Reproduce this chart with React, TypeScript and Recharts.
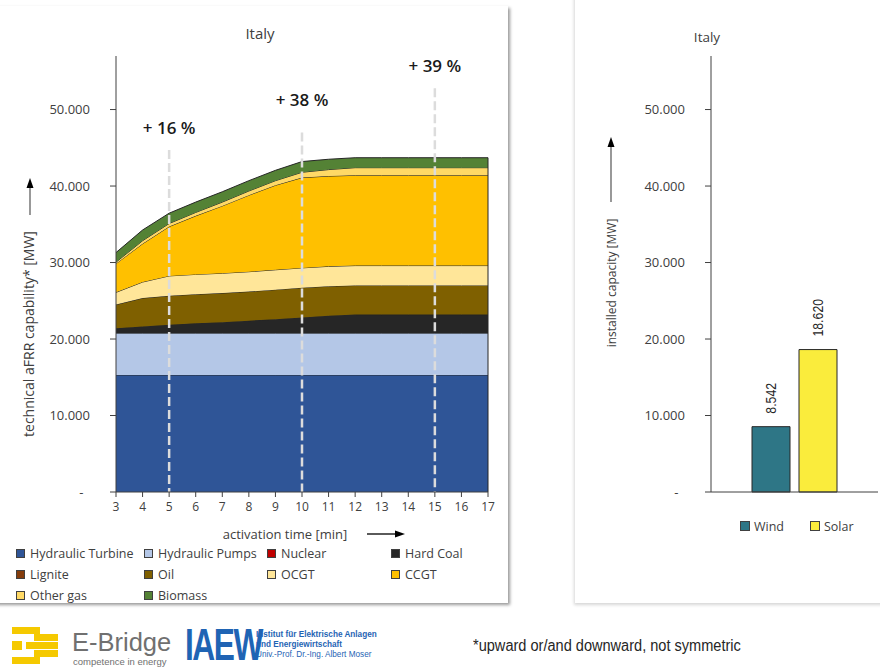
import React from 'react';
import { AreaChart, Area, XAxis, YAxis, ReferenceLine, BarChart, Bar, LabelList, Legend } from 'recharts';

const FONT = '"Open Sans", "Noto Sans", sans-serif';
const ARIAL = '"Liberation Sans", Arial, sans-serif';
const TEXT = '#404040';

// ---- left chart data: technical aFRR capability [MW] per activation time ----
const minutes = [3, 4, 5, 6, 7, 8, 9, 10, 11, 12, 13, 14, 15, 16, 17];
const hydraulicTurbine = [15300, 15300, 15300, 15300, 15300, 15300, 15300, 15300, 15300, 15300, 15300, 15300, 15300, 15300, 15300];
const hydraulicPumps = [5500, 5500, 5500, 5500, 5500, 5500, 5500, 5500, 5500, 5500, 5500, 5500, 5500, 5500, 5500];
const nuclear = [0, 0, 0, 0, 0, 0, 0, 0, 0, 0, 0, 0, 0, 0, 0];
const hardCoal = [600, 850, 1050, 1250, 1400, 1600, 1800, 2000, 2250, 2400, 2400, 2400, 2400, 2400, 2400];
const lignite = [0, 0, 0, 0, 0, 0, 0, 0, 0, 0, 0, 0, 0, 0, 0];
const oil = [3100, 3700, 3800, 3800, 3800, 3800, 3850, 3900, 3850, 3800, 3800, 3800, 3800, 3800, 3800];
const ocgt = [1600, 2100, 2600, 2600, 2600, 2600, 2600, 2600, 2600, 2600, 2600, 2600, 2600, 2600, 2600];
const ccgt = [3750, 5000, 6450, 7650, 8800, 10000, 11050, 11800, 11800, 11800, 11800, 11800, 11800, 11800, 11800];
const otherGas = [200, 400, 400, 450, 500, 550, 600, 700, 850, 1000, 1000, 1000, 1000, 1000, 1000];
const biomass = [1250, 1400, 1350, 1350, 1350, 1350, 1350, 1400, 1350, 1300, 1300, 1300, 1300, 1300, 1300];

const yTicks = [0, 10000, 20000, 30000, 40000, 50000];

const markerMinutes = [5, 10, 15];
const markerTops = [44700, 47000, 52800];
const markerLabels = ['+ 16 %', '+ 38 %', '+ 39 %'];
const markerOffsets = [16, 26, 16];

// ---- right chart data: installed capacity [MW] ----
const capacityCountry = ['Italy'];
const windCapacity = [8542];
const solarCapacity = [18620];

const series = [
  { key: 'hydraulicTurbine', name: 'Hydraulic Turbine', color: '#2F5597', values: hydraulicTurbine },
  { key: 'hydraulicPumps', name: 'Hydraulic Pumps', color: '#B4C7E7', values: hydraulicPumps },
  { key: 'nuclear', name: 'Nuclear', color: '#C00000', values: nuclear },
  { key: 'hardCoal', name: 'Hard Coal', color: '#262626', values: hardCoal },
  { key: 'lignite', name: 'Lignite', color: '#843C0C', values: lignite },
  { key: 'oil', name: 'Oil', color: '#7F6000', values: oil },
  { key: 'ocgt', name: 'OCGT', color: '#FFE699', values: ocgt },
  { key: 'ccgt', name: 'CCGT', color: '#FFC000', values: ccgt },
  { key: 'otherGas', name: 'Other gas', color: '#FFD966', values: otherGas },
  { key: 'biomass', name: 'Biomass', color: '#548235', values: biomass },
];

const areaData = minutes.map((m, i) => {
  const row: any = { minute: m };
  series.forEach((s) => {
    row[s.key] = s.values[i];
  });
  return row;
});

const lastTotal = series.reduce((acc, s) => acc + s.values[s.values.length - 1], 0);

const barData = capacityCountry.map((c, i) => ({ country: c, wind: windCapacity[i], solar: solarCapacity[i] }));

const fmtTick = (v: number) => (v === 0 ? '-\u2002' : `${v / 1000}.000`);
const fmtNum = (v: number) => `${Math.floor(v / 1000)}.${String(v % 1000).padStart(3, '0')}`;

const UpArrow = ({ x, y1, y2 }: { x: number; y1: number; y2: number }) => (
  <g>
    <line x1={x} y1={y1} x2={x} y2={y2 + 9} stroke="#7F7F7F" strokeWidth={1.6} />
    <polygon points={`${x},${y2} ${x - 3.5},${y2 + 10} ${x + 3.5},${y2 + 10}`} fill="#000" />
  </g>
);

const LeftYLabel = () => (
  <g>
    <text
      x={28}
      y={334}
      transform="rotate(-90 28 334)"
      textAnchor="middle"
      dominantBaseline="central"
      fontFamily={FONT}
      fontSize={14}
      fill={TEXT}
    >
      technical aFRR capability* [MW]
    </text>
    <UpArrow x={30} y1={215} y2={178} />
  </g>
);

const LeftXLabel = () => (
  <g>
    <text x={285} y={534} textAnchor="middle" dominantBaseline="central" fontFamily={FONT} fontSize={13} fill={TEXT}>
      activation time [min]
    </text>
    <line x1={367} y1={534} x2={396} y2={534} stroke="#000" strokeWidth={1.3} />
    <polygon points="405,534 395,530.5 395,537.5" fill="#000" />
  </g>
);

const RightYLabel = () => (
  <g>
    <text
      x={36}
      y={283}
      transform="rotate(-90 36 283)"
      textAnchor="middle"
      dominantBaseline="central"
      fontFamily={FONT}
      fontSize={12}
      fill={TEXT}
    >
      installed capacity [MW]
    </text>
    <UpArrow x={36} y1={202} y2={137} />
  </g>
);

const LeftLegend = () => {
  const cols = [16, 144, 267, 391];
  const rows = [553, 574, 595];
  return (
    <div style={{ position: 'relative', width: 510, height: 70 }}>
      {series.map((s, i) => {
        const c = cols[i % 4];
        const r = rows[Math.floor(i / 4)] - 545;
        return (
          <div key={s.key} style={{ position: 'absolute', left: c, top: r - 9, height: 18, display: 'flex', alignItems: 'center', whiteSpace: 'nowrap' }}>
            <span style={{ display: 'inline-block', width: 7, height: 7, background: s.color, border: '1px solid #404040', marginRight: 5 }} />
            <span style={{ fontFamily: FONT, fontSize: 12.5, color: TEXT }}>{s.name}</span>
          </div>
        );
      })}
    </div>
  );
};

const RightLegend = () => {
  const items = [
    { name: 'Wind', color: '#2E7686', left: 165 },
    { name: 'Solar', color: '#FAEC3C', left: 235 },
  ];
  return (
    <div style={{ position: 'relative', width: 305, height: 20 }}>
      {items.map((it) => (
        <div key={it.name} style={{ position: 'absolute', left: it.left, top: 0, height: 18, display: 'flex', alignItems: 'center', whiteSpace: 'nowrap' }}>
          <span style={{ display: 'inline-block', width: 8, height: 8, background: it.color, border: '1px solid #404040', marginRight: 4 }} />
          <span style={{ fontFamily: FONT, fontSize: 12.5, color: TEXT }}>{it.name}</span>
        </div>
      ))}
    </div>
  );
};

const BarValueLabel = (p: any) => {
  const { x, y, width, value } = p;
  const cx = Number(x) + Number(width) / 2;
  const yy = Number(y) - 13;
  return (
    <g transform={`translate(${cx} ${yy}) rotate(-90) scale(0.85 1)`}>
      <text x={0} y={0} textAnchor="start" dominantBaseline="central" fontFamily={ARIAL} fontSize={14.5} fill="#262626">
        {fmtNum(Number(value))}
      </text>
    </g>
  );
};

const EBridgeLogo = () => (
  <div style={{ position: 'absolute', left: 10, top: 624, width: 170, height: 44 }}>
    <svg width={50} height={40} style={{ position: 'absolute', left: 2, top: 3 }}>
      <rect x={0} y={0} width={28} height={7} fill="#F5C900" />
      <rect x={22} y={7} width={24} height={7} fill="#F5C900" />
      <rect x={0} y={14} width={10} height={9} fill="#F5C900" />
      <rect x={14} y={15} width={32} height={7} fill="#F5C900" />
      <rect x={22} y={23} width={24} height={7} fill="#F5C900" />
      <rect x={0} y={30} width={28} height={7} fill="#F5C900" />
    </svg>
    <div style={{ position: 'absolute', left: 62, top: 4, fontFamily: ARIAL, fontSize: 25.5, color: '#707070', lineHeight: '29px' }}>
      E-Bridge
    </div>
    <div style={{ position: 'absolute', left: 63, top: 32, fontFamily: ARIAL, fontSize: 9.5, color: '#707070', lineHeight: '11px', whiteSpace: 'nowrap' }}>
      competence in energy
    </div>
  </div>
);

const IaewLogo = () => (
  <div style={{ position: 'absolute', left: 185, top: 624, width: 220, height: 44 }}>
    <div style={{ position: 'absolute', left: 0, top: 0, fontFamily: ARIAL, fontWeight: 700, fontSize: 44, lineHeight: '42px', color: '#1F64B4', letterSpacing: -2, transform: 'scaleX(0.72)', transformOrigin: 'left top' }}>
      IAEW
    </div>
    <div style={{ position: 'absolute', left: 71, top: 6, fontFamily: ARIAL, fontSize: 8.2, lineHeight: '9.8px', color: '#1F64B4', whiteSpace: 'nowrap' }}>
      <div style={{ fontWeight: 700 }}>Institut für Elektrische Anlagen</div>
      <div style={{ fontWeight: 700 }}>und Energiewirtschaft</div>
      <div>Univ.-Prof. Dr.-Ing. Albert Moser</div>
    </div>
  </div>
);

export default function App() {
  return (
    <div style={{ position: 'absolute', left: 0, top: 0, width: 880, height: 668, background: '#fff', overflow: 'hidden', fontFamily: FONT }}>
      {/* slide panels */}
      <div style={{ position: 'absolute', left: -10, top: 6, width: 518, height: 597, background: '#fff', boxShadow: '2px 2px 3px rgba(0,0,0,0.4)' }} />
      <div style={{ position: 'absolute', left: 575, top: -10, width: 320, height: 613, background: '#fff', boxShadow: '-1px 2px 3px rgba(0,0,0,0.16)' }} />

      {/* left chart */}
      <div style={{ position: 'absolute', left: 0, top: 0 }}>
        <AreaChart width={510} height={600} data={areaData} margin={{ top: 56, right: 22, bottom: 78, left: 0 }}>
          <text x={260} y={33} textAnchor="middle" dominantBaseline="central" fontFamily={FONT} fontSize={15} fill={TEXT}>
            Italy
          </text>
          <XAxis
            dataKey="minute"
            type="number"
            domain={[3, 17]}
            ticks={minutes}
            interval={0}
            height={30}
            axisLine={{ stroke: '#404040' }}
            tickLine={{ stroke: '#404040' }}
            tickSize={5}
            tickMargin={5}
            tick={{ fontFamily: FONT, fontSize: 12, fill: TEXT }}
            label={<LeftXLabel />}
          />
          <YAxis
            type="number"
            domain={[0, 57000]}
            ticks={yTicks}
            interval={0}
            width={116}
            axisLine={{ stroke: '#404040' }}
            tickLine={{ stroke: '#404040' }}
            tickSize={6}
            tickMargin={20}
            tickFormatter={fmtTick}
            tick={{ fontFamily: FONT, fontSize: 13, fill: TEXT }}
            label={<LeftYLabel />}
          />
          {series.map((s) => (
            <Area
              key={s.key}
              type="linear"
              dataKey={s.key}
              name={s.name}
              stackId="a"
              fill={s.color}
              fillOpacity={1}
              stroke="#262626"
              strokeWidth={1}
              dot={false}
              activeDot={false}
              isAnimationActive={false}
            />
          ))}
          <ReferenceLine
            segment={[
              { x: minutes[minutes.length - 1], y: 0 },
              { x: minutes[minutes.length - 1], y: lastTotal },
            ]}
            stroke="#262626"
            strokeWidth={1}
          />
          {markerMinutes.map((m, i) => (
            <ReferenceLine
              key={m}
              segment={[
                { x: m, y: markerTops[i] },
                { x: m, y: 0 },
              ]}
              stroke="#DCDCDC"
              strokeWidth={2.5}
              strokeDasharray="9 4"
              label={{
                value: markerLabels[i],
                position: 'top',
                offset: markerOffsets[i],
                fontFamily: FONT,
                fontSize: 17,
                fontWeight: 600,
                fill: '#1A1A1A',
              }}
            />
          ))}
          <Legend layout="vertical" align="center" verticalAlign="middle" content={<LeftLegend />} wrapperStyle={{ position: 'absolute', left: 0, top: 545, width: 510, height: 70 }} />
        </AreaChart>
      </div>

      {/* right chart */}
      <div style={{ position: 'absolute', left: 575, top: 0 }}>
        <BarChart width={305} height={600} data={barData} margin={{ top: 56, right: 2, bottom: 78, left: 0 }} barSize={38} barGap={9}>
          <text x={132} y={37} textAnchor="middle" dominantBaseline="central" fontFamily={FONT} fontSize={13.5} fill={TEXT}>
            Italy
          </text>
          <XAxis dataKey="country" axisLine={{ stroke: '#404040' }} tickLine={false} tick={false} height={30} />
          <YAxis
            type="number"
            domain={[0, 57000]}
            ticks={yTicks}
            interval={0}
            width={136}
            axisLine={{ stroke: '#404040' }}
            tickLine={{ stroke: '#404040' }}
            tickSize={6}
            tickMargin={20}
            tickFormatter={fmtTick}
            tick={{ fontFamily: FONT, fontSize: 13, fill: TEXT }}
            label={<RightYLabel />}
          />
          <Bar dataKey="wind" name="Wind" fill="#2E7686" stroke="#262626" strokeWidth={1} isAnimationActive={false}>
            <LabelList dataKey="wind" content={<BarValueLabel />} />
          </Bar>
          <Bar dataKey="solar" name="Solar" fill="#FAEC3C" stroke="#262626" strokeWidth={1} isAnimationActive={false}>
            <LabelList dataKey="solar" content={<BarValueLabel />} />
          </Bar>
          <Legend layout="vertical" align="center" verticalAlign="middle" content={<RightLegend />} wrapperStyle={{ position: 'absolute', left: 0, top: 517, width: 305, height: 20 }} />
        </BarChart>
      </div>

      {/* footer */}
      <EBridgeLogo />
      <IaewLogo />
      <div style={{ position: 'absolute', left: 473, top: 637, fontFamily: ARIAL, fontSize: 16, color: '#262626', whiteSpace: 'nowrap', transform: 'scaleX(0.91)', transformOrigin: 'left top' }}>
        *upward or/and downward, not symmetric
      </div>
    </div>
  );
}
